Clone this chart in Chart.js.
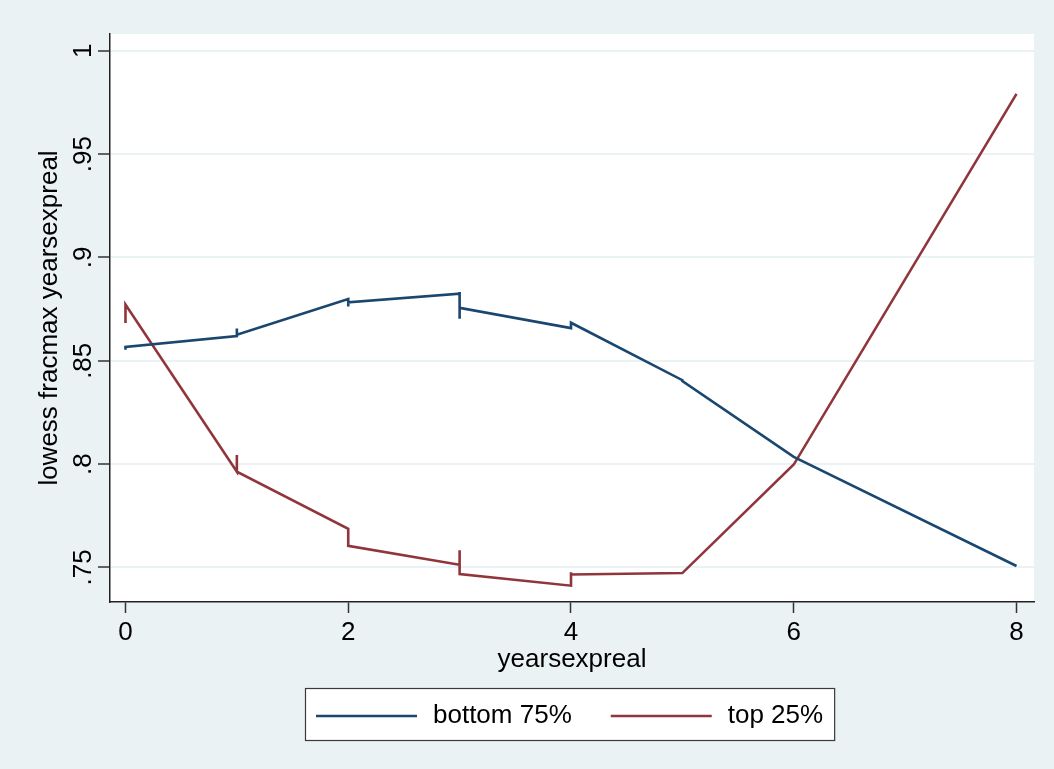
<!DOCTYPE html>
<html>
<head>
<meta charset="utf-8">
<script src="https://cdn.jsdelivr.net/npm/chart.js@4.4.0/dist/chart.umd.min.js"></script>
<style>
    html, body { margin: 0; padding: 0; background: #EAF2F3; }
    #wrap { width: 1054px; height: 769px; position: relative; }
</style>
</head>
<body>
<div id="wrap"><canvas id="lowessChart"></canvas></div>
<script>
// lowess 결과 (정수 x 에서 여러 관측치가 겹쳐 세로로 튀는 부분 포함)
var bottomX = [0, 0, 1, 1, 1, 2, 2, 2, 2, 3, 3, 3, 3, 4, 4, 5, 5, 6, 8];
var bottomY = [0.8553, 0.8567, 0.8620, 0.8656, 0.8626, 0.8799, 0.8803, 0.8763, 0.8783,
               0.8825, 0.8833, 0.8703, 0.8756, 0.8658, 0.8684, 0.8406, 0.8402, 0.8035, 0.7507];
var topX = [0, 0, 1, 1, 1, 2, 2, 3, 3, 3, 4, 4, 4, 5, 6, 8];
var topY = [0.8683, 0.8772, 0.7963, 0.8044, 0.7963, 0.7687, 0.7605, 0.7513, 0.7583, 0.7468,
            0.7412, 0.7477, 0.7466, 0.7473, 0.7998, 0.9791];

var seriesNames = ['bottom 75%', 'top 25%'];
var xTicks = [0, 2, 4, 6, 8];
var yTicks = [0.75, 0.8, 0.85, 0.9, 0.95, 1];
var yTickLabels = ['.75', '.8', '.85', '.9', '.95', '1'];
var xTitle = 'yearsexpreal';
var yTitle = 'lowess fracmax yearsexpreal';

var FONT = '"Liberation Sans", Arial, sans-serif';
var BG = '#EAF2F3';

function toPoints(xs, ys) {
    return xs.map(function(x, i) { return { x: x, y: ys[i] }; });
}

// 배경, 세로 축 글자, 범례 그리기
var stataLook = {
    id: 'stataLook',
    beforeDraw: function(chart) {
        var ctx = chart.ctx, a = chart.chartArea;
        ctx.save();
        ctx.fillStyle = BG;
        ctx.fillRect(0, 0, chart.width, chart.height);
        ctx.fillStyle = '#ffffff';
        ctx.fillRect(a.left, a.top, a.right - a.left, a.bottom - a.top);
        ctx.restore();
    },
    afterDraw: function(chart) {
        var ctx = chart.ctx, a = chart.chartArea;
        var yScale = chart.scales.y;
        ctx.save();
        ctx.fillStyle = '#000';
        ctx.font = '26px ' + FONT;

        // y tick labels (세로로 회전)
        ctx.textAlign = 'center';
        ctx.textBaseline = 'alphabetic';
        yTicks.forEach(function(v, i) {
            var py = yScale.getPixelForValue(v);
            ctx.save();
            ctx.translate(91, py);
            ctx.rotate(-Math.PI / 2);
            ctx.fillText(yTickLabels[i], 0, 0);
            ctx.restore();
        });

        // y title
        ctx.save();
        ctx.translate(57, (a.top + a.bottom) / 2);
        ctx.rotate(-Math.PI / 2);
        ctx.fillText(yTitle, 0, 0);
        ctx.restore();

        // x title
        ctx.textBaseline = 'middle';
        ctx.fillText(xTitle, (a.left + a.right) / 2, 660);

        // legend
        var lineLen = 101, gap = 16, itemGap = 39, pad = 11;
        var w0 = ctx.measureText(seriesNames[0]).width;
        var w1 = ctx.measureText(seriesNames[1]).width;
        var total = pad + lineLen + gap + w0 + itemGap + lineLen + gap + w1 + pad;
        var cx = (a.left + a.right) / 2 - 2;
        var left = Math.round(cx - total / 2);
        var top = 688, bottom = 740, midY = 716;
        ctx.fillStyle = '#ffffff';
        ctx.fillRect(left, top, total, bottom - top);
        ctx.strokeStyle = '#3a3a3a';
        ctx.lineWidth = 1.2;
        ctx.strokeRect(left + 0.5, top + 0.5, total, bottom - top);

        var x = left + pad;
        ctx.textAlign = 'left';
        chart.data.datasets.forEach(function(ds, i) {
            ctx.strokeStyle = ds.borderColor;
            ctx.lineWidth = ds.borderWidth;
            ctx.beginPath();
            ctx.moveTo(x, midY);
            ctx.lineTo(x + lineLen, midY);
            ctx.stroke();
            x += lineLen + gap;
            ctx.fillStyle = '#000';
            ctx.fillText(ds.label, x, midY);
            x += (i === 0 ? w0 : w1) + itemGap;
        });
        ctx.restore();
    }
};

var ctx = document.getElementById('lowessChart').getContext('2d');
var lowessChart = new Chart(ctx, {
    type: 'scatter',
    data: {
        datasets: [{
            label: seriesNames[0],
            data: toPoints(bottomX, bottomY),
            showLine: true,
            borderColor: '#1A476F',
            borderWidth: 2.6,
            pointRadius: 0,
            tension: 0
        }, {
            label: seriesNames[1],
            data: toPoints(topX, topY),
            showLine: true,
            borderColor: '#90353B',
            borderWidth: 2.6,
            pointRadius: 0,
            tension: 0
        }]
    },
    options: {
        responsive: true,
        maintainAspectRatio: false,
        animation: false,
        layout: { padding: { left: 0, right: 20, top: 34, bottom: 0 } },
        plugins: {
            legend: { display: false },
            tooltip: { enabled: false }
        },
        scales: {
            x: {
                type: 'linear',
                min: -0.139,
                max: 8.157,
                afterBuildTicks: function(scale) {
                    scale.ticks = xTicks.map(function(v) { return { value: v }; });
                },
                afterFit: function(scale) { scale.height = 167; },
                grid: {
                    drawOnChartArea: false,
                    drawTicks: true,
                    tickLength: 11,
                    tickColor: '#333',
                    tickWidth: 1.5
                },
                border: { display: true, color: '#222', width: 1.5 },
                ticks: {
                    color: '#000',
                    padding: 4,
                    maxRotation: 0,
                    font: { family: FONT, size: 26 },
                    callback: function(v) { return String(v); }
                }
            },
            y: {
                type: 'linear',
                min: 0.7333,
                max: 1.0081,
                afterBuildTicks: function(scale) {
                    scale.ticks = yTicks.map(function(v) { return { value: v }; });
                },
                afterFit: function(scale) { scale.width = 110; },
                grid: {
                    drawOnChartArea: true,
                    color: BG,
                    lineWidth: 2,
                    drawTicks: true,
                    tickLength: 12,
                    tickColor: '#333',
                    tickWidth: 1.5
                },
                border: { display: true, color: '#222', width: 1.5 },
                ticks: { display: false }
            }
        }
    },
    plugins: [stataLook]
});
</script>
</body>
</html>
